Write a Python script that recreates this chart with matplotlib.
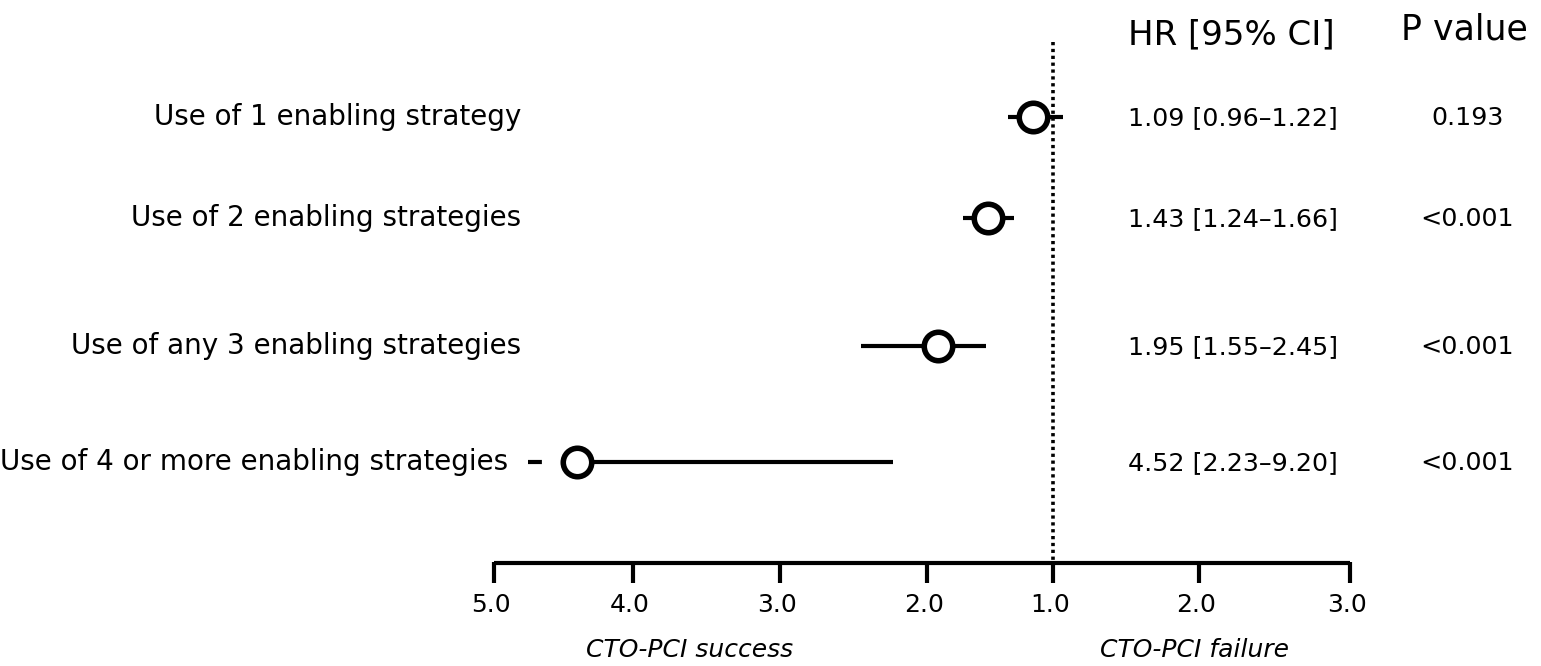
import numpy as np
import matplotlib
matplotlib.use("Agg")
import matplotlib.pyplot as plt

plt.rcParams["font.family"] = ["DejaVu Sans"]

# rows, top to bottom
labels = ["Use of 1 enabling strategy",
          "Use of 2 enabling strategies",
          "Use of any 3 enabling strategies",
          "Use of 4 or more enabling strategies"]
hr_text = ["1.09 [0.96\u20131.22]", "1.43 [1.24\u20131.66]",
           "1.95 [1.55\u20132.45]", "4.52 [2.23\u20139.20]"]
p_text = ["0.193", "<0.001", "<0.001", "<0.001"]

# positions (1.0 line = 0, right-side 3.0 = 2)
est_x = [-0.135, -0.438, -0.774, -3.205]
ci_left_x = [-0.303, -0.606, -1.293, -3.535]
ci_right_x = [0.067, -0.263, -0.451, -1.077]

tick_x = [-3.764, -2.828, -1.838, -0.848, 0.0, 0.983, 2.0]
tick_labels = ["5.0", "4.0", "3.0", "2.0", "1.0", "2.0", "3.0"]

# layout (y in pixels from top)
row_y = [117, 218, 346, 462]
axis_y = 563

fig = plt.figure(figsize=(15.41, 6.66), dpi=100)
ax = fig.add_axes([0, 0, 1, 1])
unit = 148.5
ax.set_xlim(-1053 / unit, (1541 - 1053) / unit)
ax.set_ylim(666, 0)
ax.axis("off")

# reference line at 1.0
ax.plot([0, 0], [42, axis_y], color="black", lw=2.6, ls=(0, (0.9, 1.0)), zorder=1)

# x axis drawn by hand
ax.plot([tick_x[0], tick_x[-1]], [axis_y, axis_y], color="black", lw=3,
        solid_capstyle="butt", zorder=2)
for tx, tl in zip(tick_x, tick_labels):
    ax.plot([tx, tx], [axis_y - 1.5, axis_y + 20], color="black", lw=3,
            solid_capstyle="butt", zorder=2)
    ax.text(tx - 0.02, 605, tl, ha="center", va="center", fontsize=18)

ax.text(-2.45, 650, "CTO-PCI success", ha="center", va="center",
        fontsize=18, style="italic")
ax.text(0.95, 650, "CTO-PCI failure", ha="center", va="center",
        fontsize=18, style="italic")

# whiskers and markers
for i in range(len(labels)):
    ax.plot([ci_left_x[i], ci_right_x[i]], [row_y[i], row_y[i]],
            color="black", lw=3, solid_capstyle="butt", zorder=3)
    ax.plot(est_x[i], row_y[i], marker="o", ms=20.5, mfc="white",
            mec="black", mew=4, zorder=4)

# small break in the last whisker
ax.plot([-3.42, -3.33], [row_y[3], row_y[3]], color="white", lw=4.5, zorder=3.5)

# row labels
label_right = [-3.58, -3.58, -3.58, -3.67]
for i, lab in enumerate(labels):
    ax.text(label_right[i], row_y[i], lab, ha="right", va="center", fontsize=20)
    ax.text(1.21, row_y[i] + 1, hr_text[i], ha="center", va="center", fontsize=18.3)
    ax.text(2.79, row_y[i] + 1, p_text[i], ha="center", va="center", fontsize=18.3)

# column headers
ax.text(1.20, 35, "HR [95% CI]", ha="center", va="center", fontsize=24.5)
ax.text(2.77, 30, "P value", ha="center", va="center", fontsize=25)

fig.savefig("out.png", dpi=100)
